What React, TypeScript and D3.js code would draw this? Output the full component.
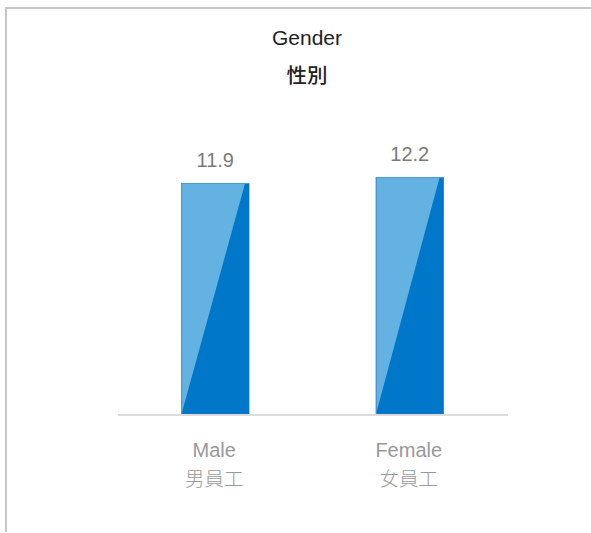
import React from "react";
import * as d3 from "d3";

const categories = ["Male", "Female"];
const categoriesZh = ["男員工", "女員工"];
const values = [11.9, 12.2];
const titleEn = "Gender";
const titleZh = "性別";

const W = 591;
const H = 533;
const baseY = 415;
const topRef = 183;

export default function App() {
  const x = d3.scaleBand<string>().domain(categories).range([118, 507]).padding(0);
  const y = d3.scaleLinear().domain([0, 11.9]).range([baseY, topRef]);
  const barW = 68;
  const font = "'Liberation Sans', Arial, 'Noto Sans CJK TC', sans-serif";
  const cjk = "'Noto Sans CJK TC', 'Liberation Sans', sans-serif";
  return (
    <svg
      width={W}
      height={H}
      style={{ position: "absolute", left: 0, top: 0, background: "#fff" }}
    >
      <line x1={5} y1={8} x2={W} y2={8} stroke="#c6c6c6" strokeWidth={2} />
      <line x1={6} y1={7} x2={6} y2={532} stroke="#c6c6c6" strokeWidth={2} />
      <text x={307} y={45} textAnchor="middle" fontFamily={font} fontSize={21} fill="#222">
        {titleEn}
      </text>
      <text x={307} y={83} textAnchor="middle" fontFamily={cjk} fontSize={20.5} fontWeight={500} fill="#222">
        {titleZh}
      </text>
      {categories.map((c, i) => {
        const cx = (x(c) as number) + x.bandwidth() / 2;
        const x0 = cx - barW / 2;
        const x1 = cx + barW / 2;
        const yt = y(values[i]);
        const k = 0.94;
        return (
          <g key={c}>
            <rect x={x0} y={yt} width={barW} height={baseY - yt} fill="#63b2e1" />
            <polygon
              points={`${x0},${baseY} ${x0 + barW * k},${yt} ${x1},${yt} ${x1},${baseY}`}
              fill="#0077c9"
            />
            <line x1={x0 + 0.5} y1={yt} x2={x0 + 0.5} y2={baseY} stroke="#3d8fd0" strokeWidth={1} />
            <line x1={x0} y1={yt + 0.5} x2={x1} y2={yt + 0.5} stroke="#4a9ad6" strokeWidth={1} />
            <text x={cx} y={yt - 16.3} textAnchor="middle" fontFamily={font} fontSize={20} fill="#7a7a7a">
              {values[i].toFixed(1)}
            </text>
            <text x={cx - 1} y={457} textAnchor="middle" fontFamily={font} fontSize={20} fill="#999">
              {c}
            </text>
            <text x={cx - 1} y={486} textAnchor="middle" fontFamily={cjk} fontSize={19.5} fontWeight={300} fill="#999">
              {categoriesZh[i]}
            </text>
          </g>
        );
      })}
      <line x1={118} y1={415} x2={508} y2={415} stroke="#dcdcdc" strokeWidth={2} />
    </svg>
  );
}
